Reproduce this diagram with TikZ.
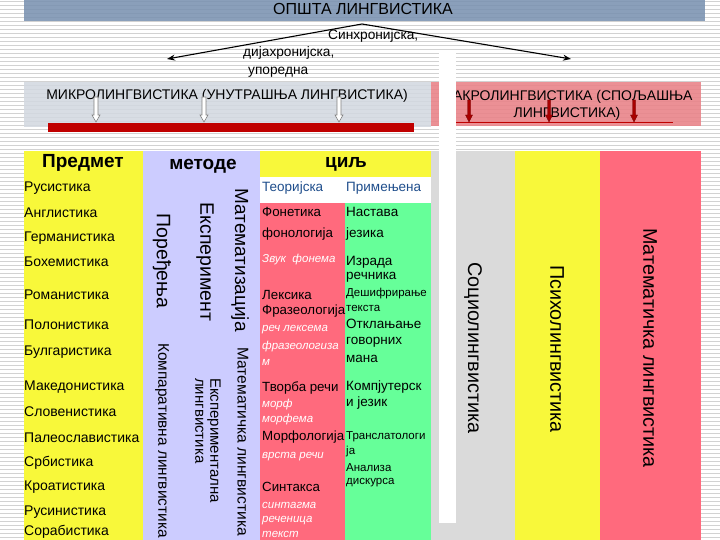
\documentclass[tikz,border=0pt]{standalone}
\usepackage{fontspec}
\setmainfont{Liberation Sans}
\usetikzlibrary{arrows.meta}
\definecolor{barblue}{HTML}{7A92B0}
\definecolor{stripec}{HTML}{D2D2D2}
\definecolor{microc}{HTML}{D3D8E0}
\definecolor{macroc}{HTML}{E98489}
\definecolor{darkred}{HTML}{C00000}
\definecolor{arrred}{HTML}{A80000}
\definecolor{yelc}{HTML}{F8F83A}
\definecolor{lavc}{HTML}{CCCCFF}
\definecolor{pinkc}{HTML}{FF6A7D}
\definecolor{greenc}{HTML}{66FF99}
\definecolor{greyc}{HTML}{DADADA}
\definecolor{teoc}{HTML}{1F4E8C}
\begin{document}
\begin{tikzpicture}[x=1pt,y=-1pt,
  fs/.style={font=\fontsize{#1}{#1}\selectfont},
  lt/.style={anchor=west,inner sep=0pt,fs=14},
  pt/.style={anchor=west,inner sep=0pt,fs=13.3},
  it/.style={anchor=west,inner sep=0pt,text=white,font=\fontsize{11.5}{12}\selectfont\itshape},
  gt/.style={anchor=west,inner sep=0pt,fs=13.5},
  gs/.style={anchor=west,inner sep=0pt,fs=11.5},
  hd/.style={inner sep=0pt,font=\fontsize{19}{19}\selectfont\bfseries},
  vt/.style={inner sep=0pt,rotate=-90,fs=#1},
  hollow/.style={fill=white,draw=gray,line width=0.6pt},
  redarr/.style={fill=arrred,draw=arrred!70!black,line width=0.4pt}]
\useasboundingbox (0,0) rectangle (720,540);
\clip (0,0) rectangle (720,540);
% striped background
\foreach \k in {0,...,135} \fill[stripec] (0,{4*\k+1}) rectangle (720,{4*\k+2.4});
% top bar
\fill[barblue,fill opacity=0.88] (24,0) rectangle (705,21);
\node[inner sep=0pt,fs=16] (title) at (363,9) {ОПШТА ЛИНГВИСТИКА};
% arrows
\coordinate (apex) at (362,24);
\coordinate (ltip) at (167,59);
\coordinate (rtip) at (571,59);
\draw[-{Stealth[length=8pt,width=6pt]},line width=1.1pt] (apex) -- (ltip);
\draw[-{Stealth[length=8pt,width=6pt]},line width=1.1pt] (apex) -- (rtip);
\node[lt,fs=13.7] (sin) at (328,36) {Синхронијска,};
\node[lt,fs=13.7] (dij) at (243,53) {дијахронијска,};
\node[lt,fs=13.7] (upo) at (248,72) {упоредна};
% bands
\fill[microc,fill opacity=0.88] (24,82) rectangle (431,127);
\fill[macroc,fill opacity=0.9] (431,82) rectangle (701,126);
\node[inner sep=0pt,fs=14] (micro) at (227,96) {МИКРОЛИНГВИСТИКА (УНУТРАШЊА ЛИНГВИСТИКА)};
\node[inner sep=0pt,fs=14,align=center] (macro) at (567,105) {МАКРОЛИНГВИСТИКА (СПОЉАШЊА\\[3pt]ЛИНГВИСТИКА)};
\fill[darkred] (48,123) rectangle (414,132);
\coordinate (rl1) at (456,123);
\coordinate (rl2) at (673,123);
\draw[darkred,line width=1pt] (rl1) -- (rl2);
\foreach \cx in {96,204,339}
  \draw[hollow] (\cx-2,97) -- (\cx+2,97) -- (\cx+2,115) -- (\cx+4,115) -- (\cx,122) -- (\cx-4,115) -- (\cx-2,115) -- cycle;
\foreach \cx in {469,549,634}
  \draw[redarr] (\cx-1.5,100) -- (\cx+1.5,100) -- (\cx+1.5,115) -- (\cx+3.5,115) -- (\cx,122) -- (\cx-3.5,115) -- (\cx-1.5,115) -- cycle;
% table columns
\fill[yelc] (24,151) rectangle (143,540);
\fill[lavc] (143,151) rectangle (260,540);
\fill[yelc] (260,151) rectangle (431,177);
\fill[white] (260,177) rectangle (431,203);
\fill[pinkc] (260,203) rectangle (345,540);
\fill[greenc] (345,203) rectangle (431,540);
\fill[greyc] (431,151) rectangle (515,540);
\fill[yelc] (515,151) rectangle (600,540);
\fill[pinkc] (600,151) rectangle (701,540);
\fill[white] (439,52) rectangle (456,523);
% headers
\node[hd] (hpred) at (83,163) {Предмет};
\node[hd] (hmet) at (203,166) {методе};
\node[hd] (hcil) at (346,164) {циљ};
% subject column
\node[lt] (s1) at (24,188) {Русистика};
\node[lt] (s2) at (24,213) {Англистика};
\node[lt] (s3) at (24,238) {Германистика};
\node[lt] (s4) at (24,262) {Бохемистика};
\node[lt] (s5) at (24,295) {Романистика};
\node[lt] (s6) at (24,325) {Полонистика};
\node[lt] (s7) at (24,352) {Булгаристика};
\node[lt] (s8) at (24,387) {Македонистика};
\node[lt] (s9) at (24,412) {Словенистика};
\node[lt] (s10) at (24,438) {Палеославистика};
\node[lt] (s11) at (24,463) {Србистика};
\node[lt] (s12) at (24,487) {Кроатистика};
\node[lt] (s13) at (24,512) {Русинистика};
\node[lt] (s14) at (24,532) {Сорабистика};
% methods column
\node[vt=19.5] (m1) at (162,261) {Поређења};
\node[vt=19.5] (m2) at (205,262) {Експеримент};
\node[vt=19] (m3) at (240,260) {Математизација};
\node[vt=15.4,anchor=west] (m4) at (162,343) {Компаративна лингвистика};
\node[vt=15,anchor=north west,align=left] (m5) at (221,378) {Експериментална\\лингвистика};
\node[vt=15.6,anchor=west] (m6) at (243,347) {Математичка лингвистика};
% goal subheaders
\node[lt,fs=13.5,text=teoc] (teo) at (262,188) {Теоријска};
\node[lt,fs=13.5,text=teoc] (pri) at (346,188) {Примењена};
% theoretical
\node[pt] (t1) at (262,212) {Фонетика};
\node[pt] (t2) at (262,234) {фонологија};
\node[it] (t3) at (262,260) {Звук\ \ фонема};
\node[pt] (t4) at (262,295) {Лексика};
\node[pt] (t5) at (262,311) {Фразеологија};
\node[it] (t6) at (262,330) {реч лексема};
\node[it] (t7) at (262,347) {фразеологиза};
\node[it] (t8) at (262,362) {м};
\node[pt] (t9) at (262,388) {Творба речи};
\node[it] (t10) at (262,405) {морф};
\node[it] (t11) at (262,420) {морфема};
\node[pt] (t12) at (262,437) {Морфологија};
\node[it] (t13) at (262,457) {врста речи};
\node[pt] (t14) at (262,487) {Синтакса};
\node[it] (t15) at (262,505) {синтагма};
\node[it] (t16) at (262,521) {реченица};
\node[it] (t17) at (262,534) {текст};
% applied
\node[gt] (a1) at (346,212) {Настава};
\node[gt] (a2) at (346,234) {језика};
\node[gt] (a3) at (346,262) {Израда};
\node[gt] (a4) at (346,277) {речника};
\node[gs] (a5) at (346,294) {Дешифрирање};
\node[gs] (a6) at (346,308) {текста};
\node[gt] (a7) at (346,324) {Отклањање};
\node[gt] (a8) at (346,342) {говорних};
\node[gt] (a9) at (346,359) {мана};
\node[gt] (a10) at (346,387) {Компјутерск};
\node[gt] (a11) at (346,403) {и језик};
\node[gs] (a12) at (346,437) {Транслатологи};
\node[gs] (a13) at (346,452) {ја};
\node[gs] (a14) at (346,468) {Анализа};
\node[gs] (a15) at (346,483) {дискурса};
% right columns
\node[vt=19.8] (r1) at (473,348) {Социолингвистика};
\node[vt=19.8] (r2) at (557,349) {Психолингвистика};
\node[vt=19.8] (r3) at (650,348) {Математичка лингвистика};
\end{tikzpicture}
\end{document}
